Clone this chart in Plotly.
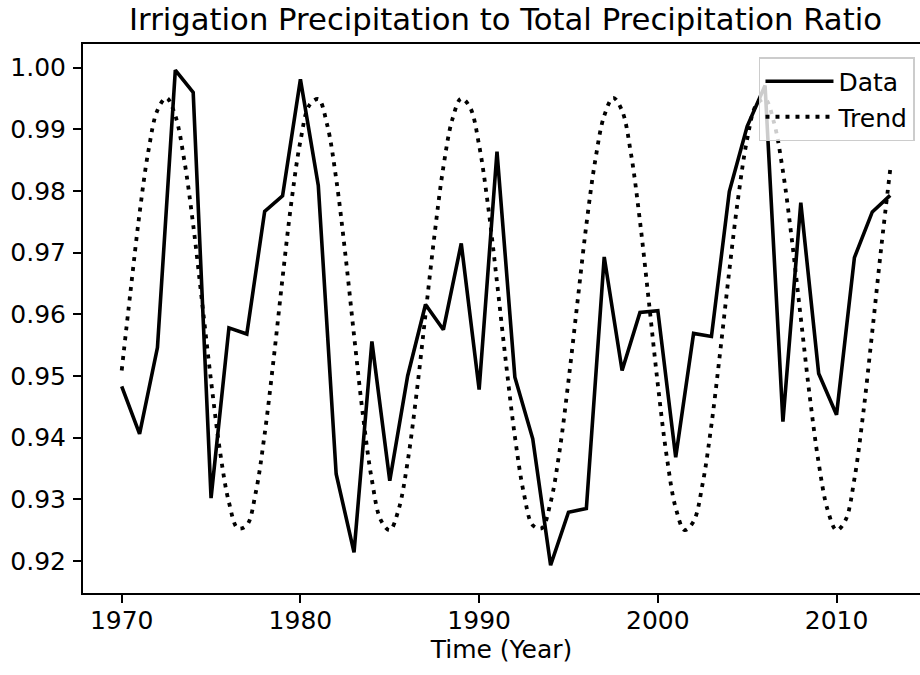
import plotly.graph_objects as go

years = list(range(1970, 2014))
ratio = [
    0.9483, 0.9406, 0.9546, 0.9996, 0.9960, 0.9302, 0.9578, 0.9568, 0.9767, 0.9792,
    0.9981, 0.9809, 0.9341, 0.9214, 0.9556, 0.9330, 0.9500, 0.9616, 0.9575, 0.9715,
    0.9478, 0.9864, 0.9498, 0.9398, 0.9193, 0.9279, 0.9285, 0.9693, 0.9509, 0.9603,
    0.9606, 0.9368, 0.9569, 0.9564, 0.9799, 0.9905, 0.9971, 0.9426, 0.9781, 0.9504,
    0.9437, 0.9692, 0.9766, 0.9793,
]

trend_years = [1970 + 0.5 * i for i in range(87)]
trend = [
    0.9509, 0.9639, 0.9764, 0.9866, 0.9931, 0.9951, 0.9922, 0.9850, 0.9745, 0.9619,
    0.9492, 0.9378, 0.9295, 0.9253, 0.9258, 0.9311, 0.9406, 0.9527, 0.9659, 0.9783,
    0.9881, 0.9939, 0.9949, 0.9907, 0.9820, 0.9701, 0.9566, 0.9436, 0.9331, 0.9266,
    0.9250, 0.9284, 0.9361, 0.9472, 0.9600, 0.9728, 0.9839, 0.9916, 0.9950, 0.9935,
    0.9874, 0.9776, 0.9652, 0.9522, 0.9402, 0.9310, 0.9258, 0.9253, 0.9295, 0.9378,
    0.9492, 0.9619, 0.9745, 0.9850, 0.9922, 0.9951, 0.9930, 0.9860, 0.9751, 0.9620,
    0.9486, 0.9369, 0.9286, 0.9250, 0.9264, 0.9324, 0.9421, 0.9542, 0.9671, 0.9790,
    0.9884, 0.9939, 0.9949, 0.9911, 0.9832, 0.9721, 0.9594, 0.9467, 0.9359, 0.9283,
    0.9250, 0.9266, 0.9333, 0.9441, 0.9572, 0.9708, 0.9834,
]

x_ticks = [1970, 1980, 1990, 2000, 2010]
y_ticks = [0.92, 0.93, 0.94, 0.95, 0.96, 0.97, 0.98, 0.99, 1.00]

FONT = "DejaVu Sans"

fig = go.Figure()
fig.add_trace(go.Scatter(
    x=years, y=ratio, mode="lines", name="Data",
    line=dict(color="black", width=3.6),
))
fig.add_trace(go.Scatter(
    x=trend_years, y=trend, mode="lines", name="Trend",
    line=dict(color="black", width=3.8, dash="4px,6px", shape="spline", smoothing=1.0),
))

fig.update_layout(
    width=920, height=675,
    margin=dict(l=83, r=0, t=44, b=82, autoexpand=False),
    paper_bgcolor="white", plot_bgcolor="white",
    font=dict(family=FONT, size=25, color="black"),
    title=dict(
        text="Irrigation Precipitation to Total Precipitation Ratio",
        font=dict(family=FONT, size=30.7, color="black"),
        xref="container", x=505.5 / 920, xanchor="center",
        yref="container", y=1 - 19.5 / 675, yanchor="middle",
    ),
    legend=dict(
        x=0.994, y=0.9763, xanchor="right", yanchor="top",
        bgcolor="rgba(255,255,255,0.8)", bordercolor="#cccccc", borderwidth=1.5,
        font=dict(family=FONT, size=25, color="black"),
        itemwidth=68,
    ),
    showlegend=True,
)

fig.update_xaxes(
    range=[1967.834, 2014.67], tickvals=x_ticks, ticktext=[str(v) for v in x_ticks],
    showgrid=False, zeroline=False,
    showline=True, linecolor="black", linewidth=2, mirror=True,
    ticks="outside", ticklen=8, tickwidth=2, tickcolor="black",
    ticklabelstandoff=-4,
    tickfont=dict(family=FONT, size=25, color="black"),
    title=dict(text="Time (Year)", font=dict(family=FONT, size=25, color="black"), standoff=0),
    automargin=False,
)
fig.update_yaxes(
    range=[0.9148, 1.00384], tickvals=y_ticks, ticktext=["%.2f" % v for v in y_ticks],
    showgrid=False, zeroline=False,
    showline=True, linecolor="black", linewidth=2, mirror=False,
    ticks="outside", ticklen=8, tickwidth=2, tickcolor="black",
    ticklabelstandoff=2,
    tickfont=dict(family=FONT, size=25, color="black"),
    automargin=False,
)

fig.write_html(
    "out.html",
    config={"displayModeBar": False},
    post_script="document.body.style.margin='0';",
)
